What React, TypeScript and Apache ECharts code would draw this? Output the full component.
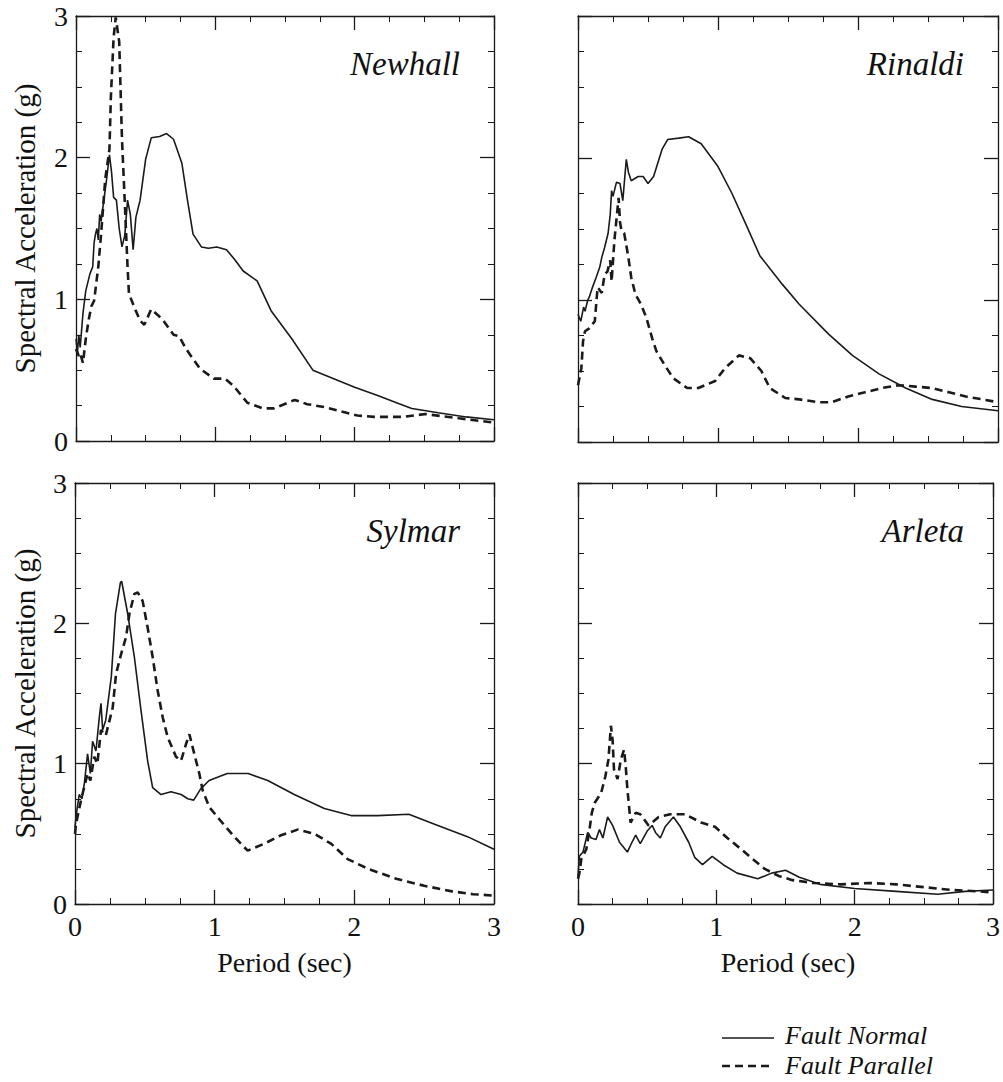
import React, { useEffect, useRef } from "react";
import * as echarts from "echarts";

const xTicks = [0, 1, 2, 3];
const yTicks = [0, 1, 2, 3];
const panelTitles = ["Newhall", "Rinaldi", "Sylmar", "Arleta"];
const legendNames = ["Fault Normal", "Fault Parallel"];
const yAxisTitle = "Spectral Acceleration (g)";
const xAxisTitle = "Period (sec)";

const newhallNormal = [[0,0.72],[0.01,0.62],[0.02,0.75],[0.03,0.66],[0.05,0.9],[0.07,1.06],[0.1,1.18],[0.12,1.23],[0.13,1.4],[0.14,1.46],[0.15,1.5],[0.16,1.42],[0.17,1.6],[0.18,1.55],[0.2,1.7],[0.22,1.85],[0.24,2.02],[0.255,1.9],[0.27,1.72],[0.29,1.7],[0.31,1.5],[0.33,1.37],[0.35,1.45],[0.37,1.7],[0.39,1.6],[0.41,1.35],[0.43,1.58],[0.46,1.7],[0.5,1.99],[0.54,2.14],[0.6,2.15],[0.65,2.17],[0.7,2.13],[0.76,1.96],[0.8,1.7],[0.84,1.46],[0.9,1.37],[0.95,1.36],[1.01,1.37],[1.08,1.35],[1.14,1.28],[1.2,1.2],[1.3,1.13],[1.4,0.92],[1.55,0.72],[1.7,0.5],[1.85,0.44],[2.0,0.38],[2.17,0.32],[2.3,0.27],[2.41,0.23],[2.6,0.2],[2.8,0.17],[3.0,0.15]];
const newhallParallel = [[0,0.65],[0.02,0.6],[0.03,0.62],[0.05,0.55],[0.07,0.72],[0.09,0.85],[0.11,0.95],[0.13,0.99],[0.16,1.23],[0.18,1.46],[0.21,1.85],[0.24,2.06],[0.25,2.42],[0.27,2.85],[0.285,2.99],[0.31,2.82],[0.33,2.13],[0.345,1.8],[0.37,1.23],[0.38,1.04],[0.42,0.94],[0.46,0.85],[0.49,0.82],[0.54,0.93],[0.62,0.86],[0.7,0.75],[0.74,0.74],[0.79,0.65],[0.89,0.51],[0.99,0.44],[1.07,0.44],[1.13,0.39],[1.23,0.27],[1.34,0.23],[1.42,0.23],[1.57,0.29],[1.66,0.26],[1.78,0.24],[1.9,0.21],[2.02,0.18],[2.14,0.17],[2.34,0.17],[2.51,0.19],[2.75,0.16],[3.0,0.13]];

const rinaldiNormal = [[0,0.9],[0.02,0.85],[0.04,0.95],[0.05,0.92],[0.07,1.0],[0.08,1.02],[0.1,1.08],[0.13,1.16],[0.155,1.23],[0.17,1.3],[0.19,1.37],[0.215,1.47],[0.23,1.6],[0.24,1.77],[0.25,1.73],[0.275,1.83],[0.3,1.82],[0.32,1.7],[0.345,1.99],[0.36,1.9],[0.38,1.84],[0.43,1.87],[0.465,1.87],[0.5,1.82],[0.54,1.87],[0.6,2.06],[0.64,2.13],[0.72,2.14],[0.79,2.15],[0.88,2.1],[1.0,1.94],[1.1,1.75],[1.21,1.51],[1.3,1.31],[1.46,1.11],[1.58,0.97],[1.79,0.76],[1.96,0.61],[2.15,0.48],[2.34,0.38],[2.53,0.3],[2.74,0.25],[3.0,0.22]];
const rinaldiParallel = [[0,0.4],[0.024,0.52],[0.036,0.71],[0.05,0.78],[0.08,0.8],[0.12,0.85],[0.14,1.09],[0.17,1.05],[0.19,1.18],[0.21,1.2],[0.23,1.28],[0.24,1.13],[0.26,1.42],[0.29,1.72],[0.3,1.55],[0.31,1.49],[0.33,1.47],[0.36,1.3],[0.38,1.16],[0.41,1.04],[0.45,0.97],[0.49,0.87],[0.53,0.73],[0.56,0.64],[0.62,0.54],[0.68,0.45],[0.78,0.38],[0.86,0.38],[0.98,0.43],[1.05,0.52],[1.15,0.61],[1.23,0.59],[1.31,0.5],[1.37,0.38],[1.48,0.31],[1.58,0.3],[1.72,0.28],[1.81,0.28],[1.93,0.32],[2.05,0.35],[2.17,0.38],[2.29,0.4],[2.41,0.39],[2.53,0.38],[2.65,0.35],[2.77,0.32],[2.89,0.3],[3.0,0.28]];

const sylmarNormal = [[0,0.55],[0.007,0.62],[0.03,0.78],[0.05,0.75],[0.067,0.86],[0.09,1.07],[0.11,0.93],[0.126,1.16],[0.15,1.09],[0.174,1.33],[0.186,1.43],[0.198,1.24],[0.22,1.31],[0.26,1.62],[0.29,2.07],[0.325,2.29],[0.334,2.3],[0.377,2.07],[0.425,1.76],[0.47,1.4],[0.52,1.02],[0.556,0.83],[0.616,0.78],[0.687,0.8],[0.76,0.78],[0.807,0.75],[0.85,0.74],[0.9,0.82],[0.96,0.88],[1.09,0.93],[1.24,0.93],[1.38,0.88],[1.57,0.78],[1.785,0.68],[1.976,0.63],[2.167,0.63],[2.39,0.64],[2.57,0.57],[2.81,0.48],[3.0,0.39]];
const sylmarParallel = [[0,0.5],[0.007,0.57],[0.043,0.74],[0.09,0.93],[0.11,0.88],[0.138,1.05],[0.16,1.0],[0.186,1.24],[0.22,1.2],[0.27,1.4],[0.294,1.64],[0.33,1.78],[0.365,1.9],[0.39,2.07],[0.425,2.21],[0.449,2.22],[0.484,2.16],[0.52,1.97],[0.556,1.76],[0.592,1.52],[0.628,1.33],[0.663,1.19],[0.723,1.05],[0.759,1.02],[0.795,1.14],[0.819,1.21],[0.854,1.07],[0.89,0.93],[0.914,0.81],[0.962,0.69],[1.045,0.59],[1.14,0.48],[1.236,0.38],[1.356,0.43],[1.475,0.49],[1.594,0.53],[1.714,0.5],[1.833,0.43],[1.952,0.32],[2.1,0.25],[2.3,0.18],[2.5,0.13],[2.7,0.09],[2.85,0.07],[3.0,0.06]];

const arletaNormal = [[0,0.2],[0.01,0.34],[0.036,0.37],[0.07,0.51],[0.095,0.47],[0.13,0.46],[0.155,0.53],[0.18,0.47],[0.214,0.62],[0.25,0.56],[0.3,0.44],[0.357,0.37],[0.39,0.44],[0.417,0.49],[0.45,0.43],[0.5,0.52],[0.536,0.56],[0.56,0.51],[0.595,0.47],[0.63,0.55],[0.69,0.62],[0.74,0.55],[0.8,0.44],[0.845,0.33],[0.9,0.28],[0.97,0.34],[1.05,0.28],[1.15,0.22],[1.3,0.18],[1.4,0.22],[1.5,0.24],[1.6,0.19],[1.75,0.14],[2.0,0.11],[2.3,0.09],[2.6,0.07],[2.8,0.09],[3.0,0.1]];
const arletaParallel = [[0,0.18],[0.01,0.22],[0.024,0.32],[0.06,0.39],[0.083,0.53],[0.1,0.65],[0.12,0.72],[0.14,0.75],[0.167,0.79],[0.198,0.91],[0.22,1.03],[0.238,1.27],[0.25,1.17],[0.26,0.96],[0.286,0.89],[0.31,1.03],[0.333,1.1],[0.345,0.98],[0.357,0.82],[0.38,0.58],[0.417,0.65],[0.45,0.64],[0.51,0.56],[0.583,0.62],[0.667,0.64],[0.774,0.64],[0.89,0.58],[0.99,0.55],[1.08,0.47],[1.18,0.39],[1.25,0.33],[1.35,0.25],[1.45,0.2],[1.55,0.17],[1.7,0.15],[1.9,0.14],[2.1,0.15],[2.3,0.14],[2.5,0.12],[2.7,0.1],[2.9,0.09],[3.0,0.08]];

const normalSeries = [newhallNormal, rinaldiNormal, sylmarNormal, arletaNormal];
const parallelSeries = [newhallParallel, rinaldiParallel, sylmarParallel, arletaParallel];

const INK = "#1a1a1a";
const SERIF = "'Liberation Serif', 'DejaVu Serif', serif";

export default function App() {
  const ref = useRef<HTMLDivElement>(null);

  useEffect(() => {
    if (!ref.current) return;
    const chart = echarts.init(ref.current, null, { renderer: "svg" });

    const grids = [
      { left: 76, top: 16, width: 418, height: 425 },
      { left: 578, top: 16, width: 420, height: 426 },
      { left: 75, top: 483, width: 419, height: 421 },
      { left: 578, top: 483, width: 420, height: 421 },
    ];

    const axisLineStyle = { color: INK, width: 1.3 };
    const labelStyle = {
      margin: 8,
      fontSize: 28,
      fontFamily: SERIF,
      color: "#111",
    };
    const xAxes: any[] = [];
    const yAxes: any[] = [];
    grids.forEach((g, i) => {
      const showX = i >= 2;
      const showY = i % 2 === 0;
      ["bottom", "top"].forEach((pos) => {
        xAxes.push({
          gridIndex: i,
          type: "value",
          position: pos,
          min: xTicks[0],
          max: xTicks[xTicks.length - 1],
          interval: 1,
          axisLine: { show: true, onZero: false, lineStyle: axisLineStyle },
          axisTick: { show: true, inside: true, length: 14, lineStyle: axisLineStyle },
          minorTick: { show: true, splitNumber: 4, length: 6, lineStyle: { color: INK, width: 1 } },
          splitLine: { show: false },
          axisLabel: { ...labelStyle, show: pos === "bottom" && showX },
        });
      });
      ["left", "right"].forEach((pos) => {
        yAxes.push({
          gridIndex: i,
          type: "value",
          position: pos,
          min: yTicks[0],
          max: yTicks[yTicks.length - 1],
          interval: 1,
          axisLine: { show: true, onZero: false, lineStyle: axisLineStyle },
          axisTick: { show: true, inside: true, length: 14, lineStyle: axisLineStyle },
          minorTick: { show: true, splitNumber: 4, length: 6, lineStyle: { color: INK, width: 1 } },
          splitLine: { show: false },
          axisLabel: { ...labelStyle, show: pos === "left" && showY },
        });
      });
    });

    const series: any[] = [];
    for (let i = 0; i < 4; i++) {
      series.push({
        type: "line",
        name: legendNames[0],
        xAxisIndex: i * 2,
        yAxisIndex: i * 2,
        data: normalSeries[i],
        showSymbol: false,
        lineStyle: { color: INK, width: 1.6, type: "solid" },
        z: 3,
      });
      series.push({
        type: "line",
        name: legendNames[1],
        xAxisIndex: i * 2,
        yAxisIndex: i * 2,
        data: parallelSeries[i],
        showSymbol: false,
        lineStyle: { color: INK, width: 2.6, type: [8, 5] },
        z: 2,
      });
    }

    const graphics: any[] = [];
    grids.forEach((g, i) => {
      graphics.push({
        type: "text",
        x: g.left + g.width - 34,
        y: g.top + 64,
        style: {
          text: panelTitles[i],
          fontFamily: SERIF,
          fontStyle: "italic",
          fontSize: 33,
          fill: "#111",
          textAlign: "right",
          textVerticalAlign: "bottom",
        },
      });
      if (i % 2 === 0) {
        graphics.push({
          type: "text",
          x: 25,
          y: g.top + g.height / 2,
          rotation: Math.PI / 2,
          style: {
            text: yAxisTitle,
            fontFamily: SERIF,
            fontSize: 29,
            fill: "#111",
            textAlign: "center",
            textVerticalAlign: "middle",
          },
        });
      }
      if (i >= 2) {
        graphics.push({
          type: "text",
          x: g.left + g.width / 2,
          y: 962,
          style: {
            text: xAxisTitle,
            fontFamily: SERIF,
            fontSize: 28,
            fill: "#111",
            textAlign: "center",
            textVerticalAlign: "middle",
          },
        });
      }
    });

    // legend
    graphics.push({
      type: "line",
      shape: { x1: 722, y1: 1038, x2: 774, y2: 1038 },
      style: { stroke: INK, lineWidth: 1.6 },
    });
    graphics.push({
      type: "line",
      shape: { x1: 722, y1: 1066, x2: 774, y2: 1066 },
      style: { stroke: INK, lineWidth: 2.6, lineDash: [8, 5] },
    });
    legendNames.forEach((n, k) => {
      graphics.push({
        type: "text",
        x: 785,
        y: 1035 + k * 30,
        style: {
          text: n,
          fontFamily: SERIF,
          fontStyle: "italic",
          fontSize: 26,
          fill: "#111",
          textAlign: "left",
          textVerticalAlign: "middle",
        },
      });
    });

    chart.setOption({
      animation: false,
      backgroundColor: "#ffffff",
      grid: grids.map((g) => ({ ...g, containLabel: false })),
      xAxis: xAxes,
      yAxis: yAxes,
      series,
      graphic: graphics,
    });

    return () => chart.dispose();
  }, []);

  return (
    <div
      ref={ref}
      style={{ position: "absolute", left: 0, top: 0, width: 1003, height: 1082 }}
    />
  );
}
